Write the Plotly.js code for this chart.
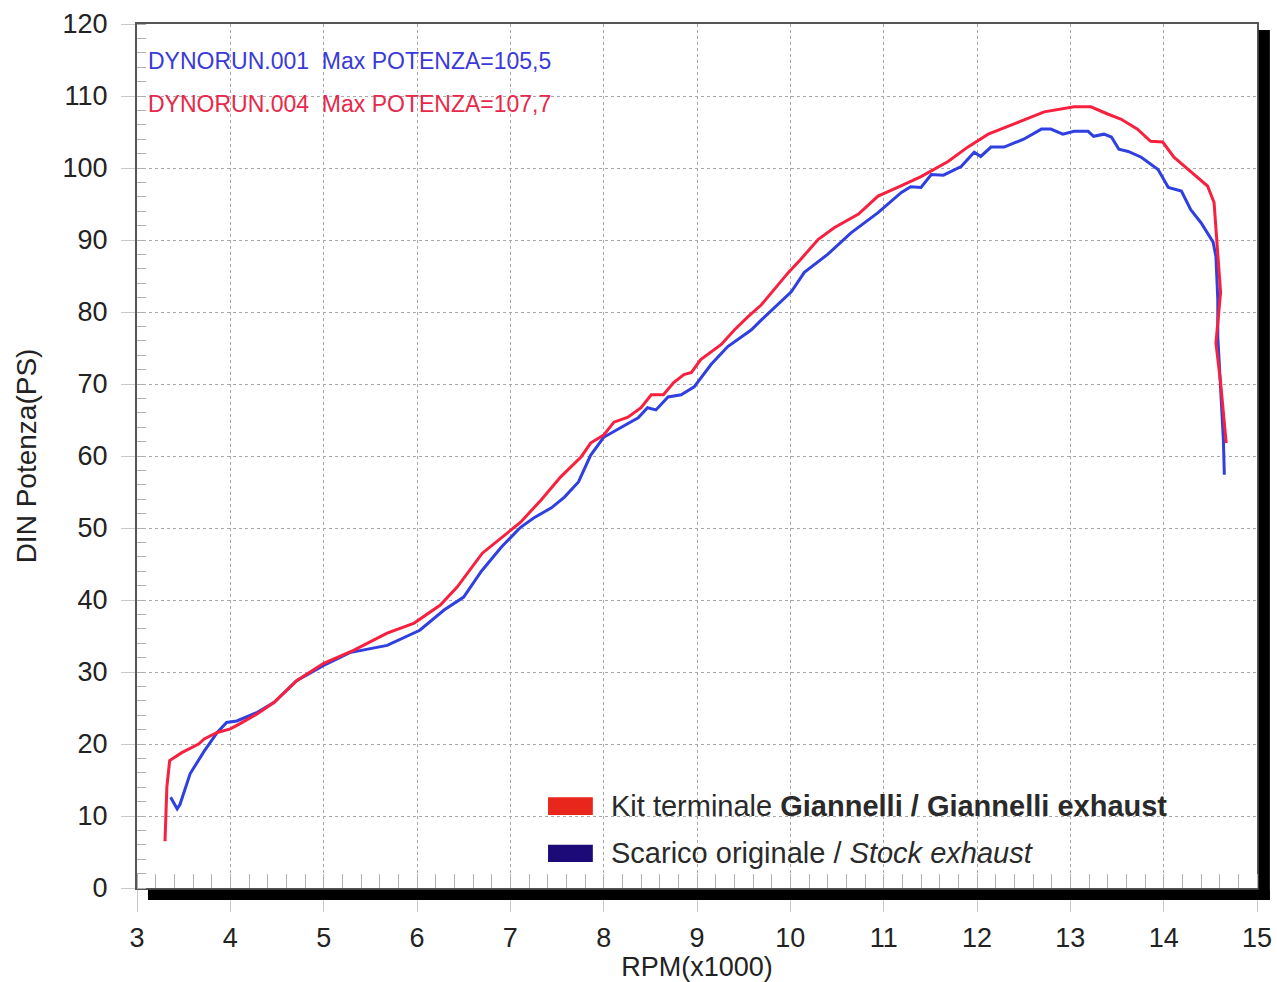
<!DOCTYPE html>
<html>
<head>
<meta charset="utf-8">
<script src="https://cdn.plot.ly/plotly-3.0.1.min.js"></script>
<style>
html,body{margin:0;padding:0;background:#fff;}
#chart{width:1277px;height:982px;}
</style>
</head>
<body>
<div id="chart"></div>
<script>
// RPM (x1000) and power (PS) for the Giannelli exhaust run (DYNORUN.004)
const rpmGiannelli = [3.30,3.32,3.35,3.48,3.66,3.72,3.86,4.00,4.10,4.29,4.47,4.71,5.00,5.32,5.68,5.97,6.25,6.43,6.70,6.90,7.11,7.33,7.54,7.76,7.86,8.00,8.11,8.26,8.40,8.51,8.64,8.75,8.86,8.94,9.04,9.26,9.40,9.55,9.69,9.98,10.11,10.30,10.47,10.73,10.94,11.15,11.40,11.69,11.90,12.12,12.44,12.72,13.04,13.22,13.40,13.54,13.72,13.86,13.99,14.11,14.29,14.47,14.54,14.58,14.61,14.56,14.61,14.67];
const psGiannelli  = [6.5,14.0,17.7,18.8,20.0,20.7,21.6,22.1,22.8,24.2,25.8,28.8,31.2,33.0,35.4,36.8,39.3,41.8,46.5,48.6,50.8,53.9,57.1,59.9,61.8,62.9,64.7,65.4,66.7,68.5,68.5,70.2,71.3,71.6,73.4,75.5,77.5,79.4,81.0,85.5,87.3,90.1,91.7,93.6,96.1,97.3,98.8,100.9,102.9,104.7,106.4,107.8,108.5,108.5,107.5,106.8,105.4,103.7,103.6,101.5,99.5,97.5,95.2,88.7,82.7,75.7,70.2,61.8];

// RPM (x1000) and power (PS) for the stock exhaust run (DYNORUN.001)
const rpmStock = [3.36,3.43,3.46,3.57,3.72,3.86,3.96,4.07,4.29,4.47,4.71,5.00,5.28,5.68,6.03,6.29,6.50,6.69,6.90,7.11,7.25,7.44,7.58,7.73,7.86,8.00,8.19,8.37,8.47,8.56,8.69,8.83,8.97,9.15,9.33,9.58,9.69,10.01,10.15,10.40,10.65,10.94,11.19,11.29,11.40,11.51,11.64,11.83,11.97,12.04,12.15,12.29,12.50,12.69,12.79,12.92,13.04,13.19,13.25,13.36,13.44,13.52,13.62,13.76,13.94,14.05,14.19,14.29,14.40,14.53,14.56,14.58,14.58,14.61,14.64,14.65];
const psStock  = [12.6,11.0,11.6,15.9,19.0,21.6,23.0,23.2,24.4,25.8,28.8,30.9,32.7,33.7,35.8,38.6,40.4,44.0,47.3,50.1,51.4,52.8,54.3,56.4,60.1,62.6,64.0,65.3,66.7,66.4,68.2,68.5,69.6,72.7,75.2,77.5,78.9,82.8,85.5,88.0,91.0,93.8,96.6,97.4,97.3,99.1,99.0,100.2,102.2,101.6,102.9,102.9,104.0,105.4,105.4,104.7,105.1,105.1,104.4,104.7,104.3,102.6,102.3,101.5,99.8,97.3,96.8,94.2,92.4,89.7,87.7,81.7,76.6,70.2,62.2,57.4];

const xTickVals = [3,4,5,6,7,8,9,10,11,12,13,14,15];
const yTickVals = [0,10,20,30,40,50,60,70,80,90,100,110,120];

const runLabels = ["DYNORUN.001  Max POTENZA=105,5", "DYNORUN.004  Max POTENZA=107,7"];
const legendLabels = ["Kit terminale <b>Giannelli / Giannelli exhaust</b>", "Scarico originale / <i>Stock exhaust</i>"];

const FONT = "Liberation Sans, Arial, sans-serif";

const traces = [
  {x: rpmStock, y: psStock, type: "scatter", mode: "lines", name: "Stock",
   line: {color: "#2f3fe0", width: 3}, hoverinfo: "skip"},
  {x: rpmGiannelli, y: psGiannelli, type: "scatter", mode: "lines", name: "Giannelli",
   line: {color: "#f7213f", width: 3}, hoverinfo: "skip"}
];

const layout = {
  width: 1277, height: 982,
  margin: {l: 137, r: 20, t: 24, b: 94},
  paper_bgcolor: "#ffffff",
  plot_bgcolor: "#ffffff",
  showlegend: false,
  font: {family: FONT, color: "#222"},
  xaxis: {
    range: [3, 15], tickvals: xTickVals, ticktext: xTickVals.map(String),
    showgrid: true, gridcolor: "#a8a8a8", griddash: "dot", gridwidth: 1,
    zeroline: false,
    showline: true, linecolor: "#555", linewidth: 2, mirror: true,
    ticks: "outside", ticklen: 22, tickcolor: "#c8c8c8", tickwidth: 1,
    ticklabelstandoff: 3,
    tickfont: {family: FONT, size: 27, color: "#222"},
    minor: {dtick: 0.2, ticks: "inside", ticklen: 14, tickcolor: "#b0b0b0", tickwidth: 1, showgrid: false},
    title: {text: "RPM(x1000)", font: {family: FONT, size: 27, color: "#222"}, standoff: 8}
  },
  yaxis: {
    range: [0, 120], tickvals: yTickVals, ticktext: yTickVals.map(String),
    showgrid: true, gridcolor: "#a8a8a8", griddash: "dot", gridwidth: 1,
    zeroline: false,
    showline: true, linecolor: "#555", linewidth: 2, mirror: true,
    ticks: "outside", ticklen: 14, tickcolor: "#c8c8c8", tickwidth: 1,
    ticklabelstandoff: 8,
    tickfont: {family: FONT, size: 27, color: "#222"},
    minor: {dtick: 2, ticks: "inside", ticklen: 9, tickcolor: "#b0b0b0", tickwidth: 1, showgrid: false},
    title: {text: "DIN Potenza(PS)", font: {family: FONT, size: 28, color: "#222"}, standoff: 18}
  },
  shapes: [
    // drop shadow of the frame (right and bottom)
    {type: "rect", xref: "paper", yref: "paper", x0: 1.0015, x1: 1.0115, y0: -0.0139, y1: 0.993,
     fillcolor: "#000", line: {width: 0}, layer: "above"},
    {type: "rect", xref: "paper", yref: "paper", x0: 0.0098, x1: 1.0115, y0: -0.0139, y1: -0.002,
     fillcolor: "#000", line: {width: 0}, layer: "above"},
    // legend swatches
    {type: "rect", xref: "paper", yref: "paper", x0: 0.367, x1: 0.407, y0: 0.0845, y1: 0.105,
     fillcolor: "#e8261c", line: {width: 0}},
    {type: "rect", xref: "paper", yref: "paper", x0: 0.367, x1: 0.407, y0: 0.030, y1: 0.050,
     fillcolor: "#1c0a78", line: {width: 0}}
  ],
  annotations: [
    {xref: "paper", yref: "paper", x: 0.008, y: 0.957, xanchor: "left", yanchor: "middle",
     text: runLabels[0], showarrow: false, font: {family: FONT, size: 23, color: "#3a3ad8"}},
    {xref: "paper", yref: "paper", x: 0.008, y: 0.907, xanchor: "left", yanchor: "middle",
     text: runLabels[1], showarrow: false, font: {family: FONT, size: 23, color: "#e8284a"}},
    {xref: "paper", yref: "paper", x: 0.421, y: 0.095, xanchor: "left", yanchor: "middle",
     text: legendLabels[0], showarrow: false, font: {family: FONT, size: 29, color: "#2a2a2a"}},
    {xref: "paper", yref: "paper", x: 0.421, y: 0.040, xanchor: "left", yanchor: "middle",
     text: legendLabels[1], showarrow: false, font: {family: FONT, size: 29, color: "#2a2a2a"}}
  ]
};

Plotly.newPlot("chart", traces, layout, {displayModeBar: false, staticPlot: true});
</script>
</body>
</html>
